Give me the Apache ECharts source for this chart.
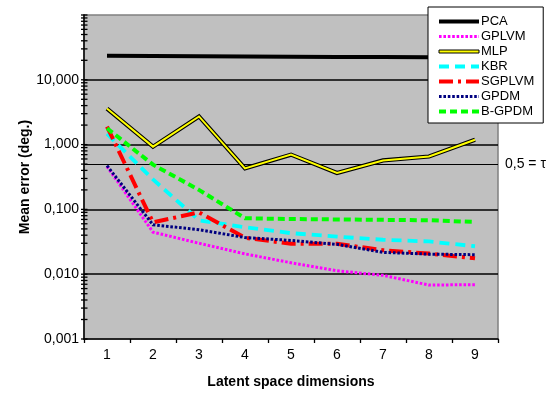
<!DOCTYPE html>
<html><head><meta charset="utf-8">
<script src="https://cdn.jsdelivr.net/npm/echarts@6/dist/echarts.min.js"></script>
<style>html,body{margin:0;padding:0;background:#fff}#c{width:555px;height:394px}</style>
</head><body><div id="c"></div>
<script>
const categories = ['1','2','3','4','5','6','7','8','9'];
const pca    = [23.6, 23.3, 23.0, 22.8, 22.6, 22.5, 22.4, 22.2, 22.0];
const gplvm  = [0.46, 0.0446, 0.030, 0.0206, 0.015, 0.0113, 0.0096, 0.0068, 0.0069];
const mlp    = [3.6, 0.93, 2.72, 0.43, 0.70, 0.365, 0.57, 0.655, 1.19];
const kbr    = [1.47, 0.29, 0.068, 0.053, 0.043, 0.038, 0.034, 0.032, 0.027];
const sgplvm = [1.9, 0.063, 0.09, 0.0365, 0.0295, 0.0295, 0.0234, 0.0208, 0.0176];
const gpdm   = [0.474, 0.0578, 0.0487, 0.0368, 0.0332, 0.0289, 0.0217, 0.0204, 0.0200];
const bgpdm  = [1.79, 0.49, 0.20, 0.073, 0.071, 0.070, 0.069, 0.068, 0.064];
const yTickLabels = ['0,001','0,010','0,100','1,000','10,000'];
const tauValue = 0.5;
const tauLabel = '0,5 = \u03c4';
const seriesNames = ['PCA','GPLVM','MLP','KBR','SGPLVM','GPDM','B-GPDM'];

// log axis minor/major tick positions (axis decoration)
const tickVals = [];
for (let e = -3; e <= 2; e++) {
  tickVals.push(Math.pow(10, e));
  if (e < 2) for (let k = 2; k <= 9; k++) tickVals.push(k * Math.pow(10, e));
}

const FONT = 'Liberation Sans, Arial, sans-serif';
const chart = echarts.init(document.getElementById('c'), null, {renderer: 'canvas'});

const styles = {
  'PCA':    {color: '#000000', width: 4,   type: 'solid'},
  'GPLVM':  {color: '#ff00ff', width: 3,   type: [2.6, 1.8]},
  'KBR':    {color: '#00ffff', width: 3.8, type: [10, 6]},
  'SGPLVM': {color: '#ff0000', width: 4,   type: [14, 5, 3, 5]},
  'GPDM':   {color: '#000080', width: 3,   type: [2.6, 1.8]},
  'B-GPDM': {color: '#00ff00', width: 4,   type: [7, 4]}
};

function lineSeries(name, data, st, z) {
  return {
    name: name, type: 'line', data: data, symbol: 'none', z: z,
    lineStyle: {color: st.color, width: st.width, type: st.type, cap: 'butt', join: 'miter'},
    itemStyle: {color: st.color},
    emphasis: {disabled: true}, animation: false
  };
}

const series = [
  Object.assign(lineSeries('PCA', pca, styles['PCA'], 2), {
    markLine: {
      silent: true, symbol: 'none', animation: false,
      lineStyle: {color: '#000', width: 1.2, type: 'solid'},
      label: {show: true, position: 'end', distance: 7, formatter: tauLabel,
               fontFamily: FONT, fontSize: 14, color: '#000'},
      data: [{yAxis: tauValue}]
    }
  }),
  lineSeries('GPLVM', gplvm, styles['GPLVM'], 3),
  lineSeries('MLP_outline', mlp, {color: '#000000', width: 4.2, type: 'solid'}, 4),
  lineSeries('MLP', mlp, {color: '#ffff00', width: 2, type: 'solid'}, 5),
  lineSeries('KBR', kbr, styles['KBR'], 6),
  lineSeries('SGPLVM', sgplvm, styles['SGPLVM'], 7),
  lineSeries('GPDM', gpdm, styles['GPDM'], 8),
  lineSeries('B-GPDM', bgpdm, styles['B-GPDM'], 9),
  {
    type: 'custom', name: 'yticks', silent: true, animation: false, z: 20, clip: false,
    data: tickVals.map(v => [0, v]),
    encode: {x: 0, y: 1},
    renderItem: function (params, api) {
      const p = api.coord([0, api.value(1)]);
      const x0 = params.coordSys.x;
      return {type: 'line', shape: {x1: x0 - 3, y1: p[1], x2: x0 + 3.5, y2: p[1]},
              style: {stroke: '#000', lineWidth: 1.3}};
    }
  }
];

const legendData = seriesNames.map(n => {
  if (n === 'MLP') return {name: n, icon: 'path://M0,0H40V3H0Z',
    itemStyle: {color: '#ffff00', borderColor: '#000', borderWidth: 1, opacity: 1}};
  const st = styles[n];
  return {name: n, lineStyle: {color: st.color, width: st.width, type: st.type}};
});

chart.setOption({
  animation: false,
  backgroundColor: '#ffffff',
  grid: {left: 84, right: 57, top: 15, bottom: 47, show: true,
         backgroundColor: '#c0c0c0', borderColor: '#808080', borderWidth: 1.5},
  legend: {
    data: legendData, orient: 'vertical', left: 428, top: 7,
    backgroundColor: '#ffffff', borderColor: '#000', borderWidth: 1,
    padding: [7, 9, 4, 9], itemWidth: 40, itemHeight: 3, itemGap: 0,
    selectedMode: false,
    itemStyle: {opacity: 0},
    textStyle: {fontFamily: FONT, fontSize: 13, color: '#000', lineHeight: 15, padding: [0, 0, 0, -3]}
  },
  xAxis: {
    type: 'category', data: categories, boundaryGap: true,
    axisLine: {lineStyle: {color: '#000', width: 1.5}},
    axisTick: {show: true, length: 4, lineStyle: {color: '#000', width: 1.3}},
    axisLabel: {fontFamily: FONT, fontSize: 14, color: '#000', margin: 9},
    name: 'Latent space dimensions', nameLocation: 'middle', nameGap: 36,
    nameMoveOverlap: false,
    nameTextStyle: {fontFamily: FONT, fontSize: 14, fontWeight: 'bold', color: '#000'}
  },
  yAxis: {
    type: 'log', logBase: 10, min: 0.001, max: 100, splitNumber: 5,
    axisLine: {show: true, lineStyle: {color: '#000', width: 1.5}},
    axisTick: {show: false},
    axisLabel: {fontFamily: FONT, fontSize: 14, color: '#000', margin: 5,
      formatter: function (v) {
        const i = Math.round(Math.log10(v)) + 3;
        return yTickLabels[i] || '';
      }},
    splitLine: {show: true, showMinLine: false, showMaxLine: false,
                lineStyle: {color: '#000', width: 1.5}},
    name: 'Mean error (deg.)', nameLocation: 'middle', nameGap: 52,
    nameMoveOverlap: false,
    nameTextStyle: {fontFamily: FONT, fontSize: 14, fontWeight: 'bold', color: '#000'}
  },
  series: series
});
</script></body></html>
